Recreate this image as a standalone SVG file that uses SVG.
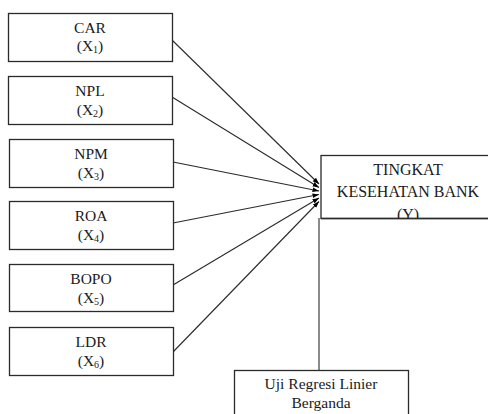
<svg xmlns="http://www.w3.org/2000/svg" width="488" height="414" viewBox="0 0 488 414">
<style>
.box{fill:#fff;stroke:#2a2a2a;stroke-width:1.3}
.t{font-family:"Liberation Serif","Times New Roman",serif;font-size:15.5px;fill:#1a1a1a;text-anchor:middle}
.sub{font-size:10px}
.con{stroke:#2a2a2a;stroke-width:1.1;fill:none}
</style>
<defs>
<marker id="ah" markerUnits="userSpaceOnUse" markerWidth="8" markerHeight="6" refX="6.5" refY="3" orient="auto">
<path d="M0,0.6 L6.5,3 L0,5.4 Z" fill="#000"/>
</marker>
<clipPath id="yclip"><rect x="321" y="155" width="167" height="63"/></clipPath>
</defs>
<rect width="488" height="414" fill="#fff"/>
<g id="connectors">
<line class="con" x1="172" y1="40" x2="319" y2="184" marker-end="url(#ah)"/>
<line class="con" x1="172" y1="97" x2="319" y2="187.5" marker-end="url(#ah)"/>
<line class="con" x1="173" y1="162" x2="319" y2="191" marker-end="url(#ah)"/>
<line class="con" x1="173" y1="223" x2="319" y2="194.5" marker-end="url(#ah)"/>
<line class="con" x1="173" y1="285" x2="319" y2="198" marker-end="url(#ah)"/>
<line class="con" x1="173" y1="352" x2="319" y2="201.5" marker-end="url(#ah)"/>
<line class="con" x1="319" y1="218" x2="319" y2="370"/>
</g>
<g id="n1"><rect class="box" x="8.5" y="13.5" width="164" height="48"/><text class="t" x="90" y="32.5">CAR</text><text class="t" x="90" y="51">(X<tspan class="sub" dy="2">1</tspan><tspan dy="-2">)</tspan></text></g>
<g id="n2"><rect class="box" x="8.5" y="76.5" width="164" height="48"/><text class="t" x="90" y="96">NPL</text><text class="t" x="90" y="114.5">(X<tspan class="sub" dy="2">2</tspan><tspan dy="-2">)</tspan></text></g>
<g id="n3"><rect class="box" x="9.5" y="139.5" width="164" height="48"/><text class="t" x="91" y="159">NPM</text><text class="t" x="91" y="177.5">(X<tspan class="sub" dy="2">3</tspan><tspan dy="-2">)</tspan></text></g>
<g id="n4"><rect class="box" x="9.5" y="201.5" width="164" height="48"/><text class="t" x="91" y="221">ROA</text><text class="t" x="91" y="239.5">(X<tspan class="sub" dy="2">4</tspan><tspan dy="-2">)</tspan></text></g>
<g id="n5"><rect class="box" x="9.5" y="264.5" width="164" height="47"/><text class="t" x="91" y="284">BOPO</text><text class="t" x="91" y="302.5">(X<tspan class="sub" dy="2">5</tspan><tspan dy="-2">)</tspan></text></g>
<g id="n6"><rect class="box" x="9.5" y="327.5" width="164" height="48"/><text class="t" x="91" y="347">LDR</text><text class="t" x="91" y="365.5">(X<tspan class="sub" dy="2">6</tspan><tspan dy="-2">)</tspan></text></g>
<g id="y"><rect class="box" x="321" y="155.5" width="176" height="63"/><g clip-path="url(#yclip)" style="font-size:16px"><text class="t" x="408" y="175" style="font-size:16px">TINGKAT</text><text class="t" x="408" y="197" style="font-size:16px">KESEHATAN BANK</text><text class="t" x="408" y="219.5" style="font-size:16px">(Y)</text></g><line x1="321" y1="218.5" x2="488" y2="218.5" stroke="#2a2a2a" stroke-width="1.3"/></g>
<g id="uji"><rect class="box" x="234.5" y="370.5" width="174" height="60"/><text class="t" x="321" y="389">Uji Regresi Linier</text><text class="t" x="321" y="408">Berganda</text></g>
</svg>
